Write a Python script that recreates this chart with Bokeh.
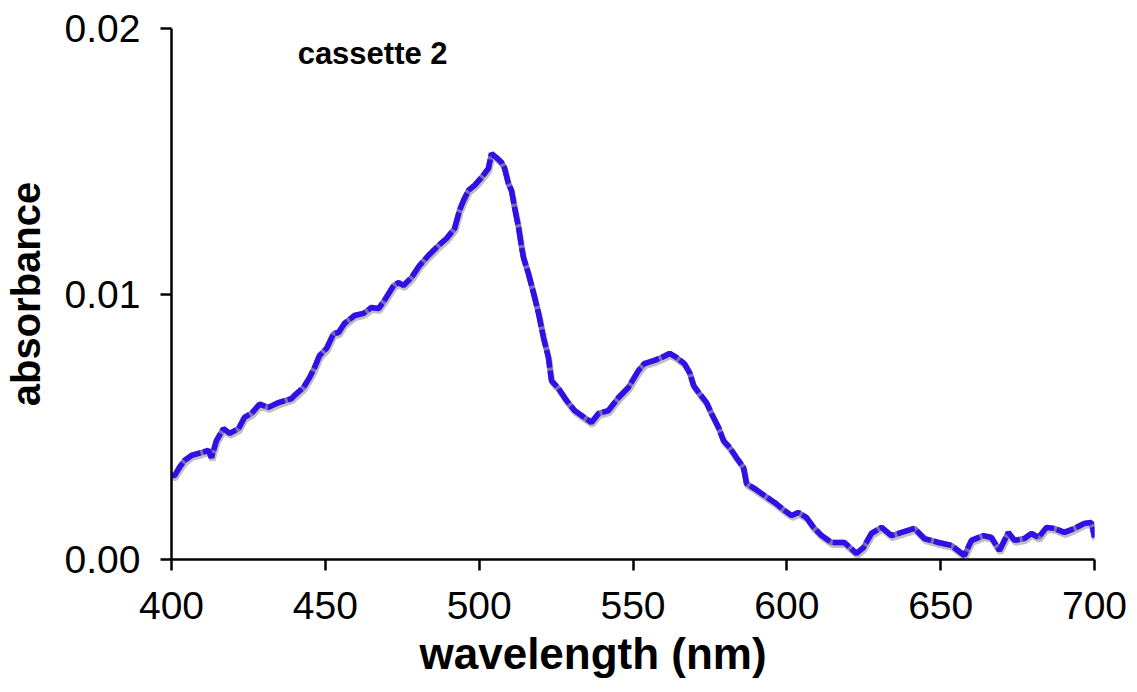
from bokeh.plotting import figure
from bokeh.models import Range1d, FixedTicker, NumeralTickFormatter, Label, LinearAxis, Title
from bokeh.embed import file_html
from bokeh.resources import INLINE

# ---- data ----
wavelength = [400.0, 401.0, 402.5, 404.2, 406.5, 409.8, 412.0, 413.0, 414.6, 416.9,
              418.9, 421.8, 423.7, 426.0, 428.6, 431.5, 434.8, 439.0, 440.0, 442.9,
              444.9, 446.5, 448.1, 450.4, 452.7, 454.3, 456.2, 459.5, 462.4, 465.0,
              467.3, 469.2, 472.2, 473.8, 475.4, 478.0, 480.6, 483.5, 486.8, 489.4,
              492.0, 493.6, 494.9, 496.5, 498.5, 500.8, 503.0, 504.0, 505.6, 507.3,
              508.2, 509.5, 510.5, 511.5, 512.8, 513.8, 514.4, 516.0, 517.7, 519.3,
              520.9, 522.5, 523.5, 525.8, 528.4, 531.0, 534.2, 536.5, 538.8, 542.0,
              545.3, 548.5, 551.8, 553.7, 557.0, 559.3, 561.9, 564.1, 566.7, 568.4,
              569.7, 571.6, 573.9, 575.5, 577.8, 579.4, 581.4, 583.6, 585.9, 586.9,
              589.5, 592.7, 596.0, 599.2, 601.5, 603.8, 606.4, 608.7, 611.3, 614.5,
              618.7, 622.6, 624.9, 627.5, 630.8, 634.0, 637.3, 641.5, 644.7, 649.3,
              653.5, 657.7, 660.0, 663.9, 666.5, 669.1, 672.0, 674.0, 677.2, 679.5,
              681.8, 684.4, 687.0, 690.2, 693.5, 696.7, 699.0, 700.0]
absorbance = [0.00316, 0.00316, 0.00345, 0.00373, 0.00392, 0.00403, 0.00411, 0.00384, 0.00448, 0.00493,
              0.00475, 0.00493, 0.00535, 0.00550, 0.00585, 0.00573, 0.00591, 0.00606, 0.00618, 0.00648,
              0.00686, 0.00723, 0.00768, 0.00795, 0.00851, 0.00855, 0.00889, 0.00919, 0.00927, 0.00949,
              0.00945, 0.00976, 0.01032, 0.01043, 0.01032, 0.01062, 0.01107, 0.01145, 0.01183, 0.01209,
              0.01247, 0.01315, 0.01352, 0.01390, 0.01409, 0.01439, 0.01473, 0.01529, 0.01514, 0.01495,
              0.01476, 0.01416, 0.01390, 0.01326, 0.01250, 0.01175, 0.01137, 0.01077, 0.01002, 0.00927,
              0.00836, 0.00761, 0.00674, 0.00644, 0.00599, 0.00561, 0.00535, 0.00516, 0.00550, 0.00561,
              0.00610, 0.00648, 0.00712, 0.00738, 0.00750, 0.00761, 0.00776, 0.00761, 0.00738, 0.00704,
              0.00655, 0.00625, 0.00591, 0.00550, 0.00497, 0.00448, 0.00422, 0.00384, 0.00347, 0.00286,
              0.00267, 0.00241, 0.00215, 0.00185, 0.00166, 0.00177, 0.00158, 0.00121, 0.00090, 0.00064,
              0.00064, 0.00023, 0.00045, 0.00098, 0.00121, 0.00090, 0.00102, 0.00117, 0.00079, 0.00064,
              0.00053, 0.00015, 0.00072, 0.00090, 0.00083, 0.00034, 0.00102, 0.00072, 0.00079, 0.00098,
              0.00083, 0.00121, 0.00117, 0.00102, 0.00117, 0.00136, 0.00139, 0.00083]
x_ticks = [400, 450, 500, 550, 600, 650, 700]
y_ticks = [0.0, 0.01, 0.02]
title_text = "cassette 2"
x_label = "wavelength (nm)"
y_label = "absorbance"

FONT = "Liberation Sans"

p = figure(width=1137, height=692, frame_width=923, frame_height=531,
           min_border_left=170, min_border_right=44, min_border_top=28, min_border_bottom=133,
           x_range=Range1d(400, 700), y_range=Range1d(0, 0.02),
           output_backend="svg", toolbar_location=None, x_axis_type=None, y_axis_type=None)
p.outline_line_color = None
p.xgrid.visible = False
p.ygrid.visible = False
p.background_fill_color = "white"
p.border_fill_color = "white"

# shadow ranges (same data drawn a couple of pixels lower/right)
dy = 2.5 * 0.02 / 531
dx = 1.0 * 300 / 923
p.extra_y_ranges = {"shadow": Range1d(0 + dy, 0.02 + dy)}
p.extra_x_ranges = {"shadow": Range1d(400 - dx, 700 - dx)}

p.line(wavelength, absorbance, x_range_name="shadow", y_range_name="shadow",
       line_color="#b8b8b8", line_width=6, line_alpha=0.9)
p.line(wavelength, absorbance, line_color="#7a6cbc", line_width=5.5)
p.line(wavelength, absorbance, line_color="#320fe6", line_width=5.5, line_dash="18 3")

xaxis = LinearAxis(ticker=FixedTicker(ticks=x_ticks))
yaxis = LinearAxis(ticker=FixedTicker(ticks=y_ticks), axis_label=y_label,
                   formatter=NumeralTickFormatter(format="0.00"))
for ax in (xaxis, yaxis):
    ax.axis_line_width = 2.5
    ax.axis_line_color = "black"
    ax.major_tick_line_width = 2.5
    ax.major_tick_line_color = "black"
    ax.major_tick_in = 0
    ax.major_tick_out = 11
    ax.minor_tick_line_color = None
    ax.major_label_text_font = FONT
    ax.major_label_text_font_size = "39px"
    ax.major_label_text_color = "black"
    ax.axis_label_text_font = FONT
    ax.axis_label_text_font_size = "40px"
    ax.axis_label_text_font_style = "bold"
    ax.axis_label_text_color = "black"
xaxis.major_label_standoff = 21
yaxis.major_label_standoff = 20
yaxis.axis_label_standoff = 14
p.add_layout(xaxis, "below")
p.add_layout(yaxis, "left")

p.add_layout(Title(text=x_label, align="left", offset=248, standoff=10,
                   text_font=FONT, text_font_size="44px", text_font_style="bold",
                   text_color="black"), "below")
p.add_layout(Label(x=441, y=0.01906, text=title_text, text_font=FONT, text_font_size="31px",
                   text_font_style="bold", text_color="black", text_baseline="middle",
                   text_align="left"))

open("out.html", "w").write(file_html(p, INLINE))
